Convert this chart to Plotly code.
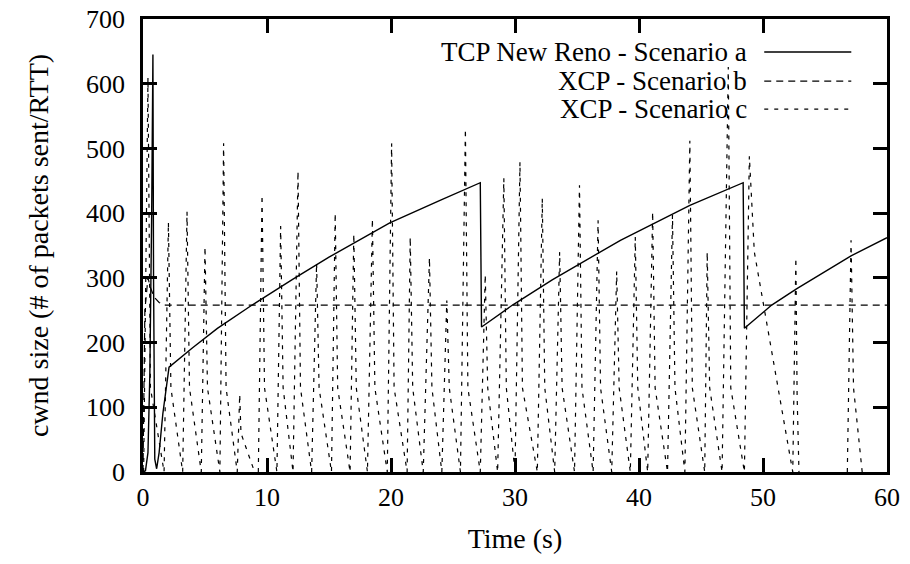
import plotly.graph_objects as go

# ---------------- data ----------------
# TCP New Reno - Scenario a
tcp_t = [0, 0.2, 0.4, 0.55, 0.7, 0.8, 0.85, 0.95, 1.1, 1.3, 1.6, 2.1, 4, 6, 8.8, 12, 15,
         19.9, 24, 27.2, 27.3, 29.8, 33, 38.5, 44.1, 48.4, 48.5, 50.7, 52.7, 57.1, 60]
tcp_cwnd = [0, 2, 30, 150, 400, 645, 300, 20, 5, 30, 90, 162, 192, 222, 258, 297, 332,
            385, 420, 447, 224, 258, 297, 358, 412, 447, 222, 258, 283, 334, 362]

# XCP - Scenario b
xcpb_t = [0, 0.15, 0.4, 0.6, 0.9, 1.3, 1.8, 60]
xcpb_cwnd = [0, 250, 300, 285, 270, 262, 258, 258]

# XCP - Scenario c : one entry per spike (start, peak time, peak, knee time, knee, end)
c_start  = [0.05, 1.7, 3.2, 4.7, 6.2, 7.6, 9.3, 10.8, 12.1, 13.6, 15.2, 16.7, 18.1, 19.7,
            21.3, 22.6, 24.1, 25.6, 27.2, 28.6, 30.0, 31.8, 33.2, 34.8, 36.3, 37.8, 39.3,
            40.7, 42.3, 43.7, 45.3, 46.7, 48.5, 52.4, 56.8]
c_peak_t = [0.4, 2.05, 3.55, 5.0, 6.5, 7.8, 9.6, 11.1, 12.5, 14.0, 15.5, 17.0, 18.5, 20.05,
            21.55, 23.1, 24.5, 26.0, 27.6, 29.1, 30.4, 32.2, 33.6, 35.2, 36.7, 38.2, 39.7,
            41.1, 42.7, 44.1, 45.5, 47.2, 48.9, 52.65, 57.1]
c_peak   = [609, 386, 402, 348, 508, 120, 428, 380, 465, 323, 400, 368, 391, 508,
            363, 331, 265, 530, 305, 454, 479, 423, 340, 443, 389, 310, 363,
            402, 397, 512, 340, 626, 488, 331, 358]
c_knee_t = [0.6, 2.25, 3.75, 5.2, 6.7, 7.9, 9.8, 11.3, 12.7, 14.2, 15.7, 17.2, 18.7, 20.25,
            21.75, 23.3, 24.7, 26.2, 27.8, 29.3, 30.6, 32.4, 33.8, 35.4, 36.9, 38.4, 39.9,
            41.3, 42.9, 44.3, 45.7, 47.4, 49.3, 52.75, 57.3]
c_knee   = [130, 130, 130, 130, 130, 60, 130, 130, 130, 130, 130, 130, 130, 130,
            130, 130, 130, 130, 130, 130, 130, 130, 130, 130, 130, 130, 130,
            130, 130, 130, 130, 130, 340, 120, 130]
c_end    = [1.7, 3.2, 4.7, 6.2, 7.6, 9.0, 10.8, 12.1, 13.6, 15.2, 16.7, 18.1, 19.7, 21.3,
            22.6, 24.1, 25.6, 27.2, 28.6, 30.0, 31.8, 33.2, 34.8, 36.3, 37.8, 39.3, 40.7,
            42.3, 43.7, 45.3, 46.7, 48.5, 52.4, 52.9, 58.0]

x_ticks = [0, 10, 20, 30, 40, 50, 60]
y_ticks = [0, 100, 200, 300, 400, 500, 600, 700]

series_names = ["TCP New Reno - Scenario a", "XCP - Scenario b", "XCP - Scenario c"]

# ---------------- build scenario c polyline (gap where cwnd stays at 0) ----------------
xcpc_t, xcpc_cwnd = [], []
prev_end = None
for s, pt, p, kt, k, e in zip(c_start, c_peak_t, c_peak, c_knee_t, c_knee, c_end):
    if prev_end is not None and s - prev_end > 0.05:
        xcpc_t.append(None)
        xcpc_cwnd.append(None)
    xcpc_t += [s, pt, kt, e]
    xcpc_cwnd += [0, p, k, 0]
    prev_end = e

FONT = "Liberation Serif"
FS_TICK = 26
FS_TITLE = 28
FS_LEG = 27
dash_b = "7px,5px"
dash_c = "4px,6px"

fig = go.Figure()
fig.add_trace(go.Scatter(x=tcp_t, y=tcp_cwnd, mode="lines", name=series_names[0],
                         line=dict(color="black", width=1.4), showlegend=False))
fig.add_trace(go.Scatter(x=xcpb_t, y=xcpb_cwnd, mode="lines", name=series_names[1],
                         line=dict(color="black", width=1.2, dash=dash_b), showlegend=False))
fig.add_trace(go.Scatter(x=xcpc_t, y=xcpc_cwnd, mode="lines", name=series_names[2],
                         line=dict(color="black", width=1.2, dash=dash_c),
                         connectgaps=False, showlegend=False))

# gnuplot-style legend: right-aligned text, line sample on the right
leg_y = [0.927, 0.863, 0.801]
leg_dash = [None, dash_b, dash_c]
for name, yy, d in zip(series_names, leg_y, leg_dash):
    fig.add_annotation(x=0.8145, y=yy, xref="paper", yref="paper", text=name,
                       showarrow=False, xanchor="right", yanchor="middle",
                       font=dict(family=FONT, size=FS_LEG, color="black"))
    ln = dict(color="black", width=1.4 if d is None else 1.2)
    if d:
        ln["dash"] = d
    fig.add_shape(type="line", xref="paper", yref="paper", x0=0.835, x1=0.952,
                  y0=yy, y1=yy, line=ln)

axis_common = dict(showline=True, linewidth=2.5, linecolor="black", mirror="ticks",
                   ticks="inside", ticklen=14, tickwidth=2.5, tickcolor="black",
                   showgrid=False, zeroline=False,
                   tickfont=dict(family=FONT, size=FS_TICK, color="black"))

fig.update_layout(
    template="none",
    width=910, height=564,
    margin=dict(l=143, r=23, t=19, b=92),
    paper_bgcolor="white", plot_bgcolor="white",
    font=dict(family=FONT, size=FS_TICK, color="black"),
    xaxis=dict(range=[0, 60], tickvals=x_ticks, ticktext=[str(v) for v in x_ticks],
               title=dict(text="Time (s)", font=dict(family=FONT, size=FS_TITLE, color="black"),
                          standoff=18),
               **axis_common),
    yaxis=dict(range=[0, 700], tickvals=y_ticks, ticktext=[str(v) for v in y_ticks],
               ticklabelstandoff=10,
               title=dict(text="cwnd size (# of packets sent/RTT)",
                          font=dict(family=FONT, size=FS_TITLE, color="black"), standoff=30),
               **axis_common),
)

fig.write_html("out.html")
